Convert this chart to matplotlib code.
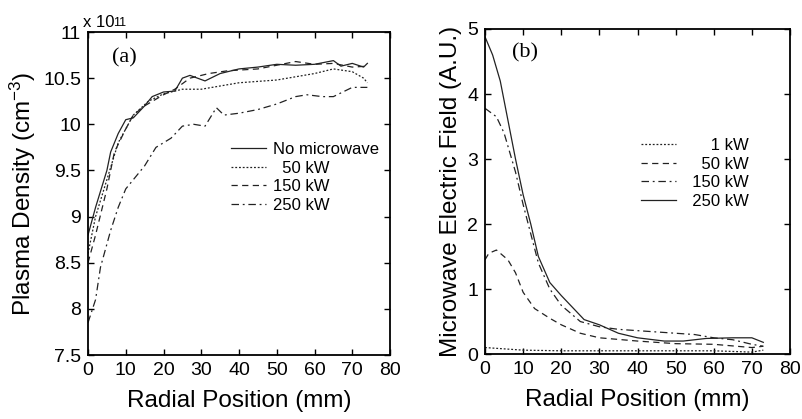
import matplotlib
matplotlib.use("Agg")
import matplotlib.pyplot as plt

plt.rcParams['font.family'] = ['Liberation Sans', 'DejaVu Sans']
plt.rcParams['mathtext.fontset'] = 'custom'
plt.rcParams['mathtext.rm'] = 'Liberation Sans'
plt.rcParams['mathtext.it'] = 'Liberation Sans'

# (a) plasma density, units of 1e11 cm^-3
x_none = [0, 2, 5, 6, 8, 10, 12, 15, 17, 20, 23, 25, 27, 31, 35, 40, 45, 50, 55, 60, 65, 67, 70, 73, 74]
y_none = [8.8, 9.1, 9.5, 9.7, 9.9, 10.05, 10.07, 10.2, 10.3, 10.35, 10.36, 10.5, 10.53, 10.47, 10.55, 10.6, 10.62, 10.65, 10.64, 10.65, 10.69, 10.63, 10.66, 10.62, 10.66]
x_50 = [0, 2, 5, 8, 12, 16, 20, 25, 30, 40, 50, 60, 65, 70, 73, 74]
y_50 = [8.6, 9.0, 9.4, 9.8, 10.1, 10.25, 10.33, 10.38, 10.38, 10.45, 10.48, 10.55, 10.6, 10.57, 10.5, 10.45]
x_150 = [0, 2, 5, 7, 10, 12, 15, 20, 23, 27, 32, 37, 45, 50, 55, 60, 65, 70, 74]
y_150 = [8.5, 8.8, 9.3, 9.7, 9.95, 10.1, 10.2, 10.32, 10.38, 10.5, 10.55, 10.58, 10.6, 10.64, 10.68, 10.65, 10.66, 10.62, 10.63]
x_250 = [0, 2, 3.3, 6, 8, 10, 13, 15, 18, 22, 25, 28, 31, 34, 36, 40, 45, 50, 55, 58, 62, 65, 70, 74]
y_250 = [7.85, 8.1, 8.45, 8.85, 9.1, 9.3, 9.45, 9.55, 9.75, 9.85, 9.98, 10.0, 9.98, 10.18, 10.1, 10.12, 10.16, 10.22, 10.3, 10.32, 10.3, 10.3, 10.4, 10.4]

# (b) microwave electric field, A.U.
xe_1 = [0, 10, 20, 40, 60, 70, 73]
ye_1 = [0.1, 0.06, 0.05, 0.05, 0.05, 0.03, 0.06]
xe_50 = [0, 1, 3, 6, 8, 10, 13, 17, 20, 25, 30, 40, 50, 60, 70, 73]
ye_50 = [1.45, 1.55, 1.6, 1.45, 1.25, 0.95, 0.7, 0.55, 0.45, 0.32, 0.25, 0.2, 0.16, 0.15, 0.1, 0.12]
xe_150 = [0, 3, 5, 8, 10, 12, 14, 17, 20, 25, 30, 35, 40, 50, 55, 60, 65, 70, 73]
ye_150 = [3.78, 3.65, 3.4, 2.8, 2.3, 1.85, 1.4, 1.0, 0.75, 0.5, 0.42, 0.38, 0.36, 0.32, 0.3, 0.25, 0.22, 0.15, 0.12]
xe_250 = [0, 2, 4, 6, 8, 10, 12, 14, 17, 20, 26, 30, 35, 40, 47, 52, 58, 65, 70, 73]
ye_250 = [4.88, 4.6, 4.2, 3.6, 3.0, 2.45, 2.0, 1.5, 1.1, 0.9, 0.53, 0.45, 0.32, 0.25, 0.2, 0.2, 0.24, 0.25, 0.25, 0.18]

labels_a = ["No microwave", "  50 kW", "150 kW", "250 kW"]
labels_b = ["      1 kW", "    50 kW", "  150 kW", "  250 kW"]

c = "#222222"
lw = 0.9
dot = (0, (1.5, 1.5))
dash = (0, (5, 3.5))
dashdot = (0, (6, 3, 1.5, 3))

fig = plt.figure(figsize=(8.03, 4.19), dpi=100)
ax1 = fig.add_axes([0.1096, 0.1527, 0.3761, 0.7709])
ax2 = fig.add_axes([0.604, 0.155, 0.3798, 0.7758])

ax1.plot(x_none, y_none, color=c, lw=lw, ls="-", label=labels_a[0])
ax1.plot(x_50, y_50, color=c, lw=lw, ls=dot, label=labels_a[1])
ax1.plot(x_150, y_150, color=c, lw=lw, ls=dash, label=labels_a[2])
ax1.plot(x_250, y_250, color=c, lw=lw, ls=dashdot, label=labels_a[3])

ax2.plot(xe_1, ye_1, color=c, lw=lw, ls=dot, label=labels_b[0])
ax2.plot(xe_50, ye_50, color=c, lw=lw, ls=dash, label=labels_b[1])
ax2.plot(xe_150, ye_150, color=c, lw=lw, ls=dashdot, label=labels_b[2])
ax2.plot(xe_250, ye_250, color=c, lw=lw, ls="-", label=labels_b[3])

ax1.set_xlim(0, 80)
ax1.set_ylim(7.5, 11)
ax1.set_yticks([7.5, 8, 8.5, 9, 9.5, 10, 10.5, 11])
ax1.set_yticklabels(["7.5", "8", "8.5", "9", "9.5", "10", "10.5", "11"])
ax2.set_xlim(0, 80)
ax2.set_ylim(0, 5)
ax2.set_yticks([0, 1, 2, 3, 4, 5])

for ax in (ax1, ax2):
    ax.set_xticks(range(0, 81, 10))
    ax.tick_params(direction="in", top=True, right=True, length=4, width=1,
                   labelsize=14, pad=5)
    for s in ax.spines.values():
        s.set_linewidth(1.3)
    ax.set_xlabel("Radial Position (mm)", fontsize=17.5, labelpad=8)

ax1.set_ylabel("Plasma Density (cm$^{-3}$)", fontsize=17.5, labelpad=4)
ax2.set_ylabel("Microwave Electric Field (A.U.)", fontsize=17.5, labelpad=4)

ax1.text(0.08, 0.92, "(a)", transform=ax1.transAxes, fontsize=16,
         family="Liberation Serif", va="center")
ax2.text(0.088, 0.926, "(b)", transform=ax2.transAxes, fontsize=16,
         family="Liberation Serif", va="center")

fig.text(83 / 803, 1 - 27 / 419, "x 10", fontsize=12, va="baseline")
fig.text(113 / 803, 1 - 26 / 419, "11", fontsize=9, va="baseline")

ax1.legend(loc="upper left", bbox_to_anchor=(0.475, 0.66), frameon=False,
           fontsize=12, handlelength=2.1, handletextpad=0.4, labelspacing=0.22,
           borderaxespad=0, borderpad=0)
ax2.legend(loc="upper left", bbox_to_anchor=(0.513, 0.665), frameon=False,
           fontsize=12, handlelength=2.1, handletextpad=0.4, labelspacing=0.22,
           borderaxespad=0, borderpad=0)

fig.savefig("out.png", dpi=100)
